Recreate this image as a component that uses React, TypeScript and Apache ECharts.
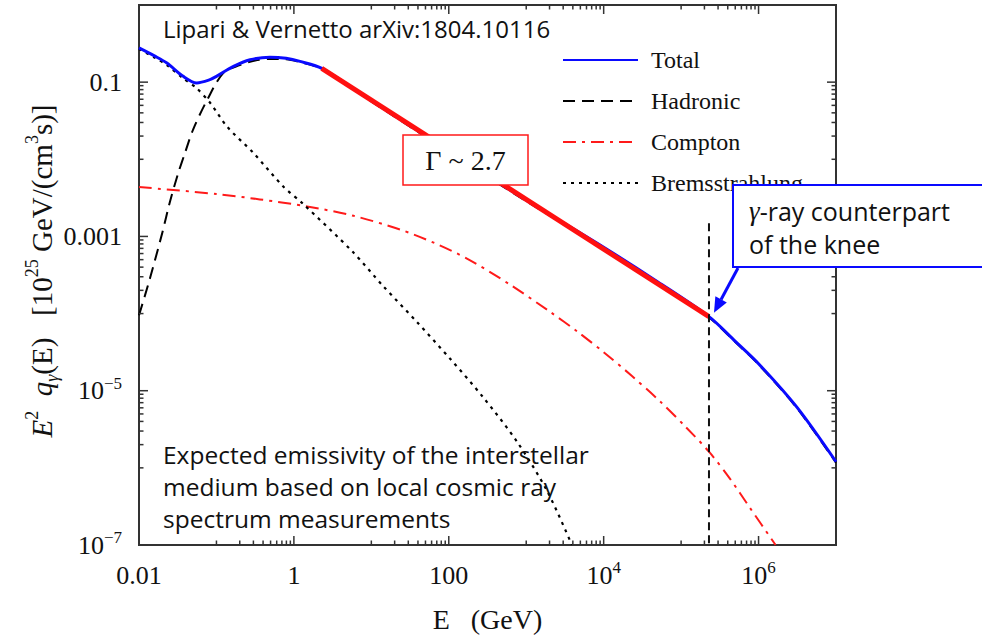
import React, { useEffect, useRef } from 'react';
import * as echarts from 'echarts';

// Gamma-ray emissivity of the interstellar medium, E^2 q(E) vs E
const totalEnergy = [0.01, 0.0158, 0.0229, 0.0372, 0.0556, 0.0794, 0.1, 0.166, 0.272, 0.49, 0.794, 1.2, 2.29, 10, 100, 1000, 1e4, 5.01e4, 2.29e5, 5.01e5, 1e6, 3.16e6, 1e7];
const totalValues = [0.278, 0.219, 0.177, 0.119, 0.0977, 0.106, 0.119, 0.16, 0.195, 0.211, 0.204, 0.186, 0.151, 0.0575, 0.0129, 0.00295, 7.24e-4, 2.57e-4, 9.12e-5, 4.37e-5, 2.24e-5, 6.03e-6, 1.2e-6];

const hadronicEnergy = [0.01, 0.0138, 0.02, 0.0251, 0.0316, 0.0398, 0.0501, 0.0759, 0.123, 0.2, 0.316, 0.49, 0.794, 1.26, 2.29, 10, 100, 1000, 1e4, 5.01e4, 2.29e5, 5.01e5, 1e6, 3.16e6, 1e7];
const hadronicValues = [9.5e-5, 2.82e-4, 1.12e-3, 2.82e-3, 6.31e-3, 0.0126, 0.0245, 0.0589, 0.132, 0.166, 0.191, 0.2, 0.198, 0.18, 0.149, 0.0562, 0.0125, 2.86e-3, 7.0e-4, 2.51e-4, 8.91e-5, 4.27e-5, 2.19e-5, 5.89e-6, 1.17e-6];

const comptonEnergy = [0.01, 0.1, 0.363, 1.48, 5.89, 23.4, 63.8, 174, 596, 2042, 4519, 1e4, 2.32e4, 5.37e4, 1.11e5, 2.29e5, 4.22e5, 7.76e5, 1.66e6];
const comptonValues = [4.37e-3, 3.55e-3, 3.02e-3, 2.45e-3, 1.85e-3, 1.23e-3, 8.3e-4, 5.13e-4, 2.43e-4, 1.05e-4, 5.89e-5, 3.16e-5, 1.55e-5, 7.24e-6, 3.51e-6, 1.62e-6, 7.36e-7, 3.02e-7, 1.0e-7];

const bremsEnergy = [0.01, 0.0158, 0.0229, 0.0372, 0.0556, 0.0832, 0.138, 0.295, 0.724, 1.32, 5.75, 14.1, 38.9, 105, 275, 759, 1862, 3890];
const bremsValues = [0.269, 0.209, 0.166, 0.112, 0.0832, 0.0537, 0.0263, 0.0123, 4.47e-3, 2.63e-3, 6.31e-4, 2.29e-4, 7.76e-5, 2.57e-5, 8.32e-6, 2.19e-6, 5.01e-7, 1.0e-7];

// Power-law fit with slope Gamma ~ 2.7, drawn between these two points
const fitEnergy = [2.29, 2.29e5];
const fitValues = [0.151, 9.12e-5];

// Knee position and the top of its vertical marker
const kneeEnergy = 2.29e5;
const kneeValue = 9.12e-5;
const kneeMarkerValues = [1.48e-3, 1e-7];

const xExpRange = [-2, 7];
const yExpRange = [-7, 0];

const SERIF = '"Liberation Serif", "Times New Roman", Times, serif';
const SANS = '"Open Sans", "Noto Sans", sans-serif';
const FRAME = '#333333';

const pairs = (xs: number[], ys: number[]) => xs.map((x, i) => [x, ys[i]]);

// Log ticks: a long one on every labelled decade, short ones in the decade above it
function logTicks(lo: number, hi: number) {
  const vals: number[] = [];
  const major: boolean[] = [];
  for (let a = lo; a <= hi; a += 2) {
    vals.push(Math.pow(10, a));
    major.push(true);
    for (let k = 1; k <= 9; k++) {
      const v = k * Math.pow(10, a + 1);
      if (a + 1 <= hi && v <= Math.pow(10, hi) * 1.0001) {
        vals.push(v);
        major.push(false);
      }
    }
  }
  return { vals, major };
}

const expOf = (v: number) => Math.round(Math.log10(v));

function powLabel(v: number) {
  const e = expOf(v);
  if (e >= -3 && e <= 2) {
    return `{b|${e < 0 ? v.toFixed(-e) : String(Math.round(v))}}`;
  }
  const es = e < 0 ? '\u2212' + String(-e) : String(e);
  return `{b|10}{s|${es}}`;
}

const MAJOR_LEN = 9;
const MINOR_LEN = 4.5;

export default function App() {
  const ref = useRef<HTMLDivElement>(null);

  useEffect(() => {
    if (!ref.current) return;
    const chart = echarts.init(ref.current, undefined, { renderer: 'svg' });

    const xT = logTicks(xExpRange[0], xExpRange[1]);
    const yT = logTicks(yExpRange[0], yExpRange[1]);
    const xMin = Math.pow(10, xExpRange[0]);
    const xMax = Math.pow(10, xExpRange[1]);
    const yMin = Math.pow(10, yExpRange[0]);
    const yMax = Math.pow(10, yExpRange[1]);

    const tickStyle = { stroke: FRAME, lineWidth: 1.5 };

    const labelRich = {
      b: { fontFamily: SERIF, fontSize: 26, lineHeight: 32, fill: '#111', verticalAlign: 'middle' },
      s: { fontFamily: SERIF, fontSize: 17, lineHeight: 16, fill: '#111', verticalAlign: 'top' },
    };
    const tickLabel = (x: number, y: number, v: number, h: string, vAlign: string) => ({
      type: 'text',
      x,
      y,
      style: {
        text: powLabel(v),
        rich: labelRich,
        fontFamily: SERIF,
        fontSize: 26,
        fill: '#111',
        align: h,
        verticalAlign: vAlign,
        textAlign: h,
        textVerticalAlign: vAlign,
      },
    });

    const hiddenAxis = {
      axisLine: { show: false },
      axisTick: { show: false },
      axisLabel: { show: false },
      splitLine: { show: false },
      minorTick: { show: false },
    };

    const option: any = {
      animation: false,
      backgroundColor: '#ffffff',
      textStyle: { fontFamily: SERIF },
      grid: {
        left: 139,
        right: 146,
        top: 5,
        bottom: 91,
        show: true,
        borderColor: FRAME,
        borderWidth: 2,
        backgroundColor: 'transparent',
      },
      xAxis: {
        type: 'log',
        logBase: 10,
        min: xMin,
        max: xMax,
        ...hiddenAxis,
        name: 'E   (GeV)',
        nameLocation: 'middle',
        nameGap: 60,
        nameTextStyle: { fontFamily: SERIF, fontSize: 28, color: '#111' },
      },
      yAxis: {
        type: 'log',
        logBase: 10,
        min: yMin,
        max: yMax,
        ...hiddenAxis,
      },
      legend: {
        data: ['Total', 'Hadronic', 'Compton', 'Bremsstrahlung'],
        orient: 'vertical',
        left: 562,
        top: 48,
        padding: 0,
        itemWidth: 75,
        itemHeight: 10,
        itemGap: 17,
        itemStyle: { opacity: 0 },
        textStyle: { fontFamily: SERIF, fontSize: 24, lineHeight: 24, color: '#111', padding: [0, 0, 0, 8] },
        selectedMode: false,
      },
      series: [
        {
          name: 'Compton',
          type: 'line',
          data: pairs(comptonEnergy, comptonValues),
          smooth: 0.3,
          symbol: 'none',
          z: 3,
          lineStyle: { color: '#ff1a1a', width: 2, type: [13, 6, 3, 6] },
          itemStyle: { color: '#ff1a1a' },
        },
        {
          name: 'Bremsstrahlung',
          type: 'line',
          data: pairs(bremsEnergy, bremsValues),
          smooth: 0.3,
          symbol: 'none',
          z: 3,
          lineStyle: { color: '#000', width: 2.2, type: [3, 5] },
          itemStyle: { color: '#000' },
        },
        {
          name: 'Hadronic',
          type: 'line',
          data: pairs(hadronicEnergy, hadronicValues),
          smooth: 0.3,
          symbol: 'none',
          z: 4,
          lineStyle: { color: '#000', width: 2, type: [12, 7] },
          itemStyle: { color: '#000' },
        },
        {
          name: 'Total',
          type: 'line',
          data: pairs(totalEnergy, totalValues),
          smooth: 0.3,
          symbol: 'none',
          z: 5,
          lineStyle: { color: '#0a0aff', width: 3 },
          itemStyle: { color: '#0a0aff' },
        },
        {
          name: 'fit',
          type: 'line',
          data: pairs(fitEnergy, fitValues),
          symbol: 'none',
          z: 6,
          silent: true,
          lineStyle: { color: '#ff1010', width: 5, cap: 'butt' },
        },
        {
          name: 'knee',
          type: 'line',
          data: kneeMarkerValues.map((v) => [kneeEnergy, v]),
          symbol: 'none',
          z: 6,
          silent: true,
          lineStyle: { color: '#111', width: 2, type: [8, 5] },
        },
        {
          name: 'xticks',
          type: 'custom',
          silent: true,
          clip: false,
          z: 7,
          data: xT.vals.map((v) => [v, 0.5]),
          renderItem: (params: any, api: any) => {
            const v = api.value(0);
            const isMajor = xT.major[params.dataIndex];
            const len = isMajor ? MAJOR_LEN : MINOR_LEN;
            const b = api.coord([v, yMin]);
            const t = api.coord([v, yMax]);
            const children: any[] = [
              { type: 'line', shape: { x1: b[0], y1: b[1], x2: b[0], y2: b[1] - len }, style: tickStyle },
              { type: 'line', shape: { x1: t[0], y1: t[1], x2: t[0], y2: t[1] + len }, style: tickStyle },
            ];
            if (isMajor) children.push(tickLabel(b[0], b[1] + 14, v, 'center', 'top'));
            return { type: 'group', children };
          },
        },
        {
          name: 'yticks',
          type: 'custom',
          silent: true,
          clip: false,
          z: 7,
          data: yT.vals.map((v) => [1, v]),
          renderItem: (params: any, api: any) => {
            const v = api.value(1);
            const isMajor = yT.major[params.dataIndex];
            const len = isMajor ? MAJOR_LEN : MINOR_LEN;
            const l = api.coord([xMin, v]);
            const r = api.coord([xMax, v]);
            const children: any[] = [
              { type: 'line', shape: { x1: l[0], y1: l[1], x2: l[0] + len, y2: l[1] }, style: tickStyle },
              { type: 'line', shape: { x1: r[0], y1: r[1], x2: r[0] - len, y2: r[1] }, style: tickStyle },
            ];
            if (isMajor) children.push(tickLabel(l[0] - 17, l[1], v, 'right', 'middle'));
            return { type: 'group', children };
          },
        },
      ],
    };

    chart.setOption(option);

    // Arrow from the knee call-out box to the knee on the total curve
    const knee = chart.convertToPixel({ xAxisIndex: 0, yAxisIndex: 0 }, [kneeEnergy, kneeValue]) as number[];
    const tip = [knee[0] + 5, knee[1] - 4];
    const tail = [738, 268];
    const dx = tip[0] - tail[0];
    const dy = tip[1] - tail[1];
    const dl = Math.hypot(dx, dy);
    const ux = dx / dl;
    const uy = dy / dl;
    const headLen = 15;
    const headHalf = 6.5;
    const base = [tip[0] - ux * headLen, tip[1] - uy * headLen];
    const blue = '#0a0aff';

    const plainText = (x: number, y: number, text: string, size: number, lh?: number) => ({
      type: 'text',
      z: 100,
      x,
      y,
      style: {
        text,
        fontFamily: SANS,
        fontSize: size,
        lineHeight: lh,
        fill: '#111',
        textAlign: 'left',
        textVerticalAlign: 'middle',
        align: 'left',
        verticalAlign: 'middle',
      },
    });

    chart.setOption({
      graphic: [
        plainText(163, 28, 'Lipari & Vernetto arXiv:1804.10116', 24),
        plainText(163, 486, 'Expected emissivity of the interstellar\nmedium based on local cosmic ray\nspectrum measurements', 24.5, 32),
        {
          type: 'rect',
          z: 100,
          shape: { x: 403, y: 135, width: 125, height: 50 },
          style: { fill: '#fff', stroke: '#ff1a1a', lineWidth: 1.5 },
        },
        {
          type: 'text',
          z: 101,
          x: 465.5,
          y: 160,
          style: {
            text: '\u0393 ~ 2.7',
            fontFamily: SERIF,
            fontSize: 28,
            fill: '#111',
            textAlign: 'center',
            textVerticalAlign: 'middle',
            align: 'center',
            verticalAlign: 'middle',
          },
        },
        {
          type: 'rect',
          z: 100,
          shape: { x: 733, y: 185, width: 270, height: 82 },
          style: { fill: '#fff', stroke: blue, lineWidth: 2 },
        },
        {
          type: 'text',
          z: 101,
          x: 749,
          y: 227,
          style: {
            text: '{g|\u03b3}{t|-ray counterpart}\n{t|of the knee}',
            rich: {
              g: { fontFamily: SERIF, fontStyle: 'italic', fontSize: 27, lineHeight: 33, fill: '#111' },
              t: { fontFamily: SANS, fontSize: 25, lineHeight: 33, fill: '#111' },
            },
            textAlign: 'left',
            textVerticalAlign: 'middle',
            align: 'left',
            verticalAlign: 'middle',
          },
        },
        {
          type: 'line',
          z: 102,
          shape: { x1: tail[0], y1: tail[1], x2: base[0], y2: base[1] },
          style: { stroke: blue, lineWidth: 3 },
        },
        {
          type: 'polygon',
          z: 102,
          shape: {
            points: [
              tip,
              [base[0] - uy * headHalf, base[1] + ux * headHalf],
              [base[0] + uy * headHalf, base[1] - ux * headHalf],
            ],
          },
          style: { fill: blue },
        },
        {
          type: 'text',
          z: 100,
          x: 42,
          y: 271,
          rotation: Math.PI / 2,
          style: {
            text: '{i|E}{sup|2}{n|  }{i|q}{sub|\u03b3}{n|(E)   [10}{sup|25}{n| GeV/(cm}{sup|3}{n|s)]}',
            rich: {
              n: { fontFamily: SERIF, fontSize: 29, lineHeight: 38, verticalAlign: 'middle', fill: '#111' },
              i: { fontFamily: SERIF, fontStyle: 'italic', fontSize: 29, lineHeight: 38, verticalAlign: 'middle', fill: '#111' },
              sup: { fontFamily: SERIF, fontSize: 18, lineHeight: 22, verticalAlign: 'top', fill: '#111' },
              sub: { fontFamily: SERIF, fontStyle: 'italic', fontSize: 18, lineHeight: 28, verticalAlign: 'bottom', fill: '#111' },
            },
            textAlign: 'center',
            textVerticalAlign: 'middle',
            align: 'center',
            verticalAlign: 'middle',
          },
        },
      ],
    });

    return () => chart.dispose();
  }, []);

  return <div ref={ref} style={{ position: 'absolute', left: 0, top: 0, width: 982, height: 638 }} />;
}
